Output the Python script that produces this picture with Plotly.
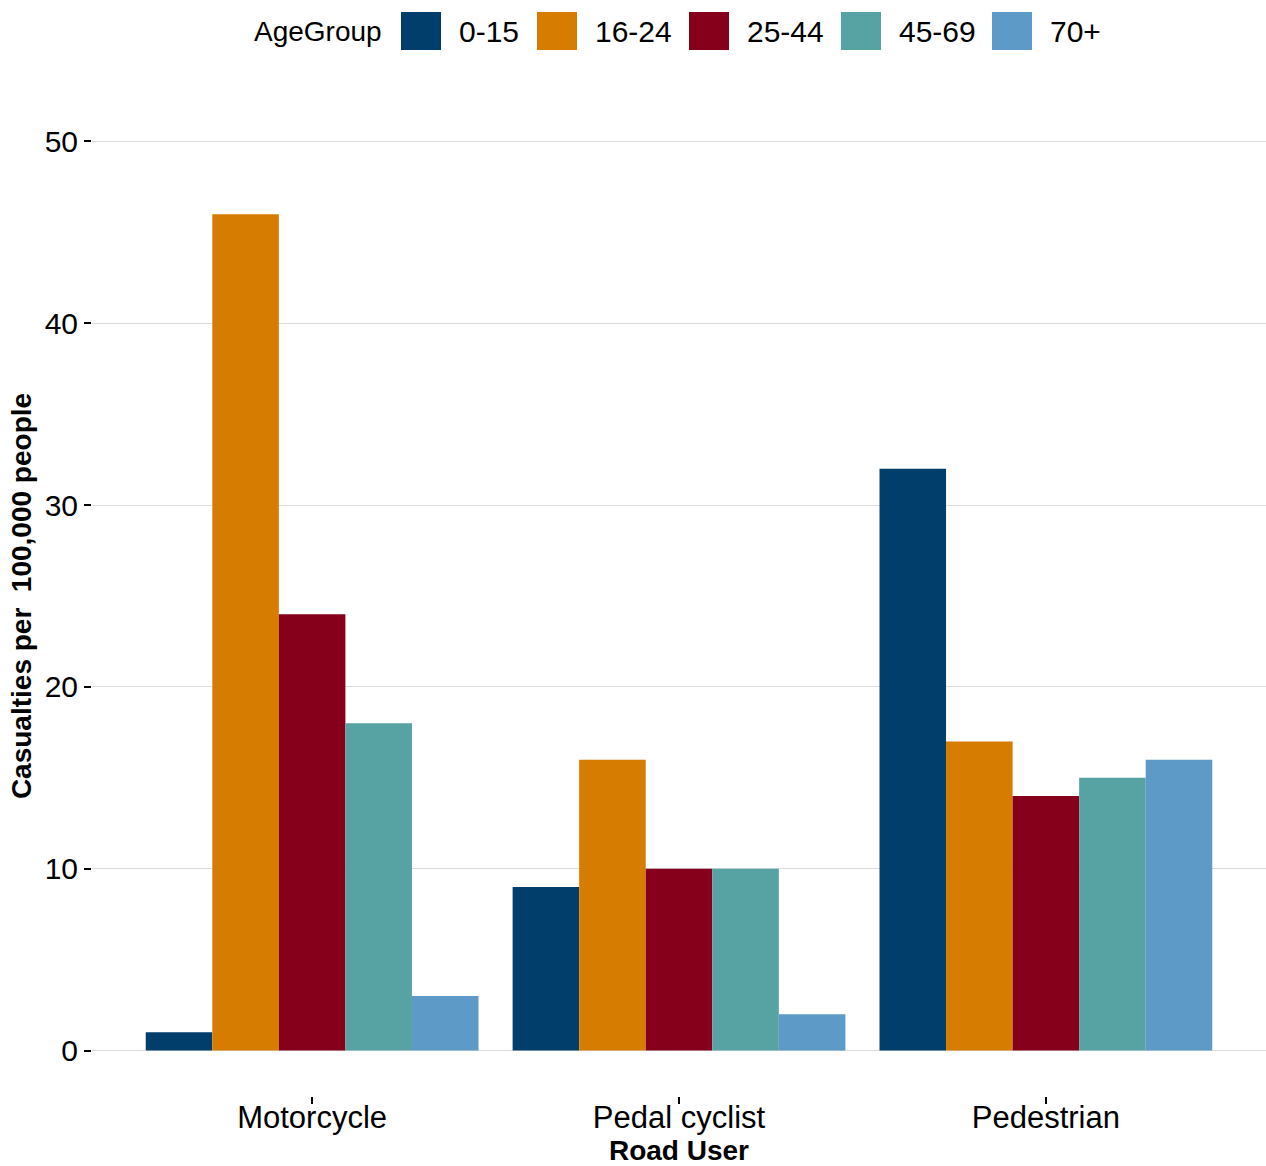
import plotly.graph_objects as go

road_users = ["Motorcycle", "Pedal cyclist", "Pedestrian"]
age_groups = ["0-15", "16-24", "25-44", "45-69", "70+"]
values = {
    "0-15": [1, 9, 32],
    "16-24": [46, 16, 17],
    "25-44": [24, 10, 14],
    "45-69": [18, 10, 15],
    "70+": [3, 2, 16],
}
colors = ["#023e6b", "#d67c00", "#86001c", "#57a2a3", "#5d9ac8"]
y_ticks = [0, 10, 20, 30, 40, 50]

W, H = 1266, 1166
L, R, T, B = 92, 0, 96, 70
FONT = "Liberation Sans, Arial, sans-serif"

fig = go.Figure()
for g, c in zip(age_groups, colors):
    fig.add_trace(go.Bar(x=road_users, y=values[g], name=g, marker=dict(color=c, line=dict(width=0)),
                         showlegend=False))

# manual legend (large square keys as in the reference); screen-pixel helpers
PL, PT, PB, PR = L, T, H - B, W - R
def px_x(px):
    return (px - PL) / (PR - PL)
def px_y(py):
    return (PB - py) / (PB - PT)

shapes = []
annotations = []
annotations.append(dict(text="AgeGroup", x=px_x(384), y=px_y(31), xref="paper", yref="paper",
                        xanchor="right", yanchor="middle", showarrow=False,
                        font=dict(size=28, color="black", family=FONT)))
swatch_left = [401, 537, 689, 841, 992]
for g, c, sx in zip(age_groups, colors, swatch_left):
    shapes.append(dict(type="rect", xref="paper", yref="paper",
                       x0=px_x(sx), x1=px_x(sx + 40), y0=px_y(50), y1=px_y(12),
                       fillcolor=c, line=dict(width=0)))
    annotations.append(dict(text=g, x=px_x(sx + 56), y=px_y(31), xref="paper", yref="paper",
                            xanchor="left", yanchor="middle", showarrow=False,
                            font=dict(size=30, color="black", family=FONT)))

fig.update_layout(
    width=W, height=H,
    margin=dict(l=L, r=R, t=T, b=B),
    paper_bgcolor="white", plot_bgcolor="white",
    barmode="group", bargap=0.093, bargroupgap=0,
    font=dict(family=FONT, color="black"),
    shapes=shapes, annotations=annotations,
    xaxis=dict(
        range=[-0.6, 2.6], showgrid=False, zeroline=False, showline=False,
        ticks="outside", ticklen=7, tickwidth=2, tickcolor="black",
        tickfont=dict(size=31, color="black", family=FONT),
        ticklabelstandoff=-13,
        title=dict(text="<b>Road User</b>", font=dict(size=28, color="black", family=FONT), standoff=3),
        automargin=False,
    ),
    yaxis=dict(
        range=[-2.5, 52.5], tickvals=y_ticks, showgrid=True, gridcolor="#dcdcdc", gridwidth=1,
        zeroline=False, showline=False,
        ticks="outside", ticklen=7, tickwidth=2, tickcolor="black",
        tickfont=dict(size=30, color="black", family=FONT),
        title=dict(text="<b>Casualties per \u00a0100,000 people</b>", font=dict(size=28, color="black", family=FONT), standoff=4),
        automargin=False,
    ),
)

fig.write_html(
    "out.html",
    config={"displayModeBar": False},
    post_script="document.body.style.margin='0';document.body.style.overflow='hidden';",
)
